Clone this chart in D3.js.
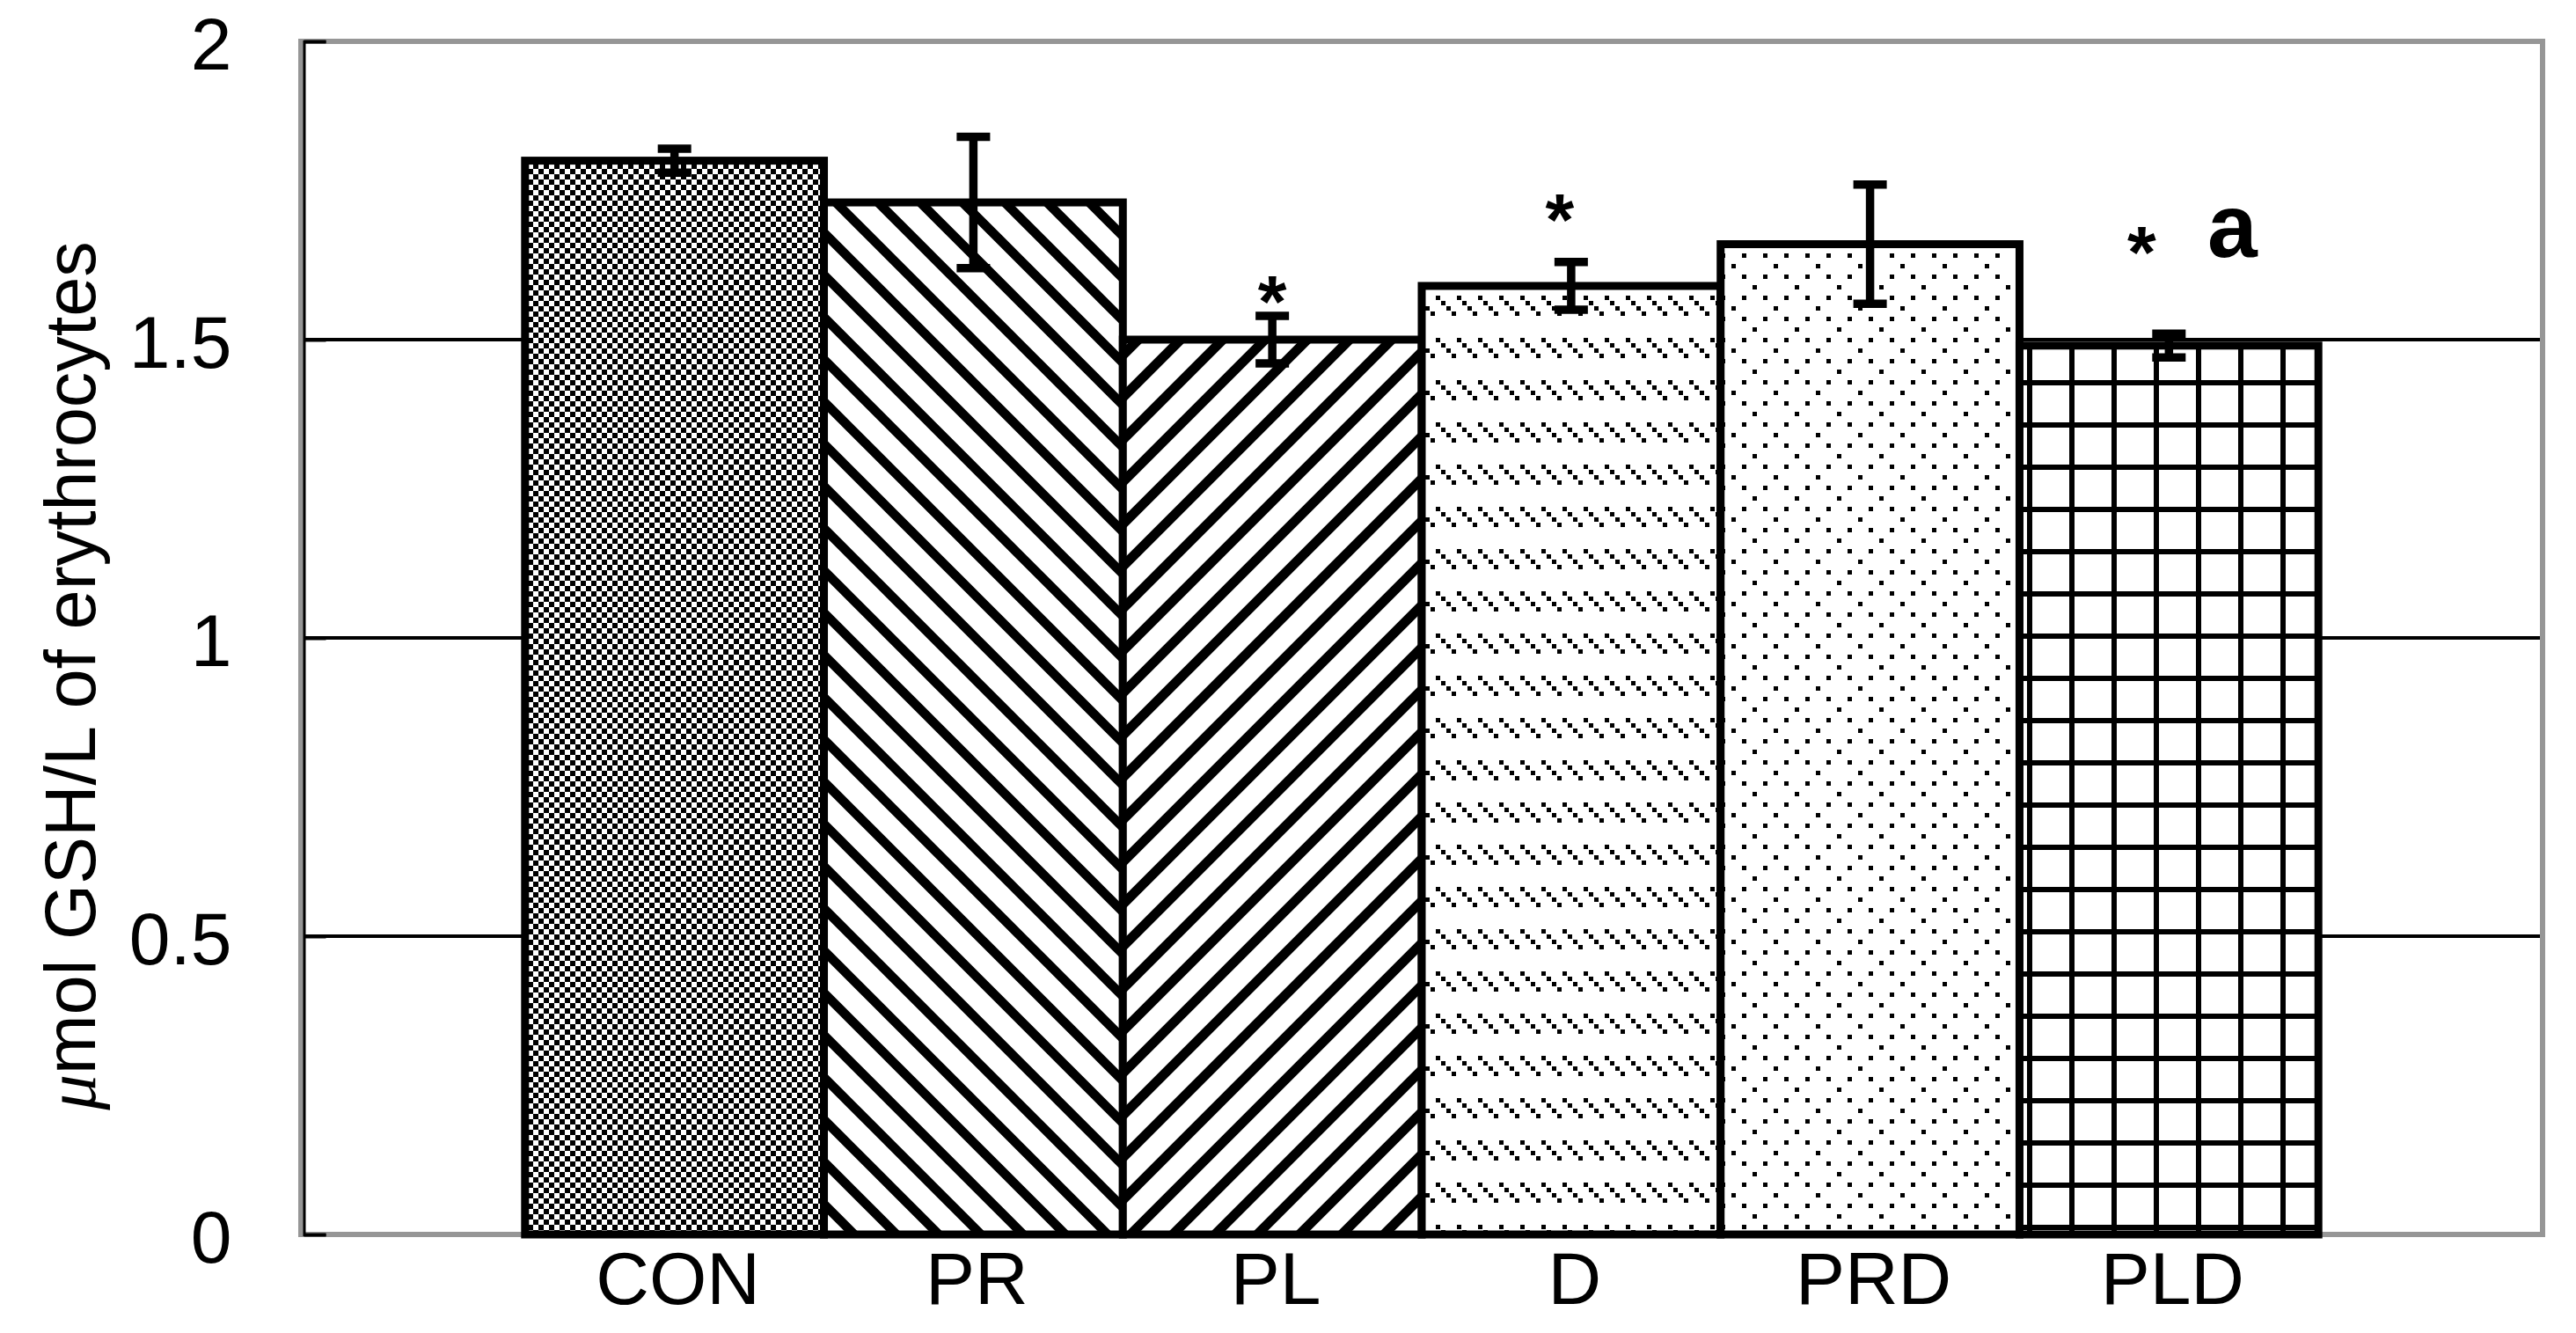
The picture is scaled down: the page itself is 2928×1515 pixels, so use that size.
<!DOCTYPE html>
<html>
<head>
<meta charset="utf-8">
<script src="https://cdn.jsdelivr.net/npm/d3@7"></script>
<style>
  body { margin: 0; background: #fff; }
  text { font-family: Arial, "Liberation Sans", sans-serif; fill: #000; }
</style>
</head>
<body>
<script>
// data
const categories = ['CON', 'PR', 'PL', 'D', 'PRD', 'PLD']
const means = [1.80, 1.73, 1.50, 1.59, 1.66, 1.49]
const errors = [0.02, 0.11, 0.04, 0.04, 0.10, 0.02]
const yTicks = [0, 0.5, 1, 1.5, 2]
const gridValues = [0.5, 1, 1.5]

// significance marks above bars
const markTexts = ['*', '*', '*', 'a']
const markCats = ['PL', 'D', 'PLD', 'PLD']
const markLevels = [1.52, 1.658, 1.603, 1.639]

const w = 2928
const h = 1515
const plot = { left: 342, right: 2890, top: 47, bottom: 1403 }

const svg = d3.select('body')
    .append('svg')
    .attr('width', w)
    .attr('height', h)

svg.append('rect').attr('width', w).attr('height', h).attr('fill', '#fff')

// fill patterns, one per group
const defs = svg.append('defs')
const u = 6

const checker = defs.append('pattern').attr('id', 'p0')
    .attr('patternUnits', 'userSpaceOnUse').attr('width', 2 * u).attr('height', 2 * u)
checker.append('rect').attr('width', 2 * u).attr('height', 2 * u).attr('fill', '#fff')
checker.append('rect').attr('x', 0).attr('y', 0).attr('width', u).attr('height', u).attr('fill', '#000')
checker.append('rect').attr('x', u).attr('y', u).attr('width', u).attr('height', u).attr('fill', '#000')

const down = defs.append('pattern').attr('id', 'p1')
    .attr('patternUnits', 'userSpaceOnUse').attr('width', 48).attr('height', 48)
down.append('rect').attr('width', 48).attr('height', 48).attr('fill', '#fff')
down.append('path').attr('d', 'M-10,-10L58,58M38,-10L58,10M-10,38L10,58')
    .attr('stroke', '#000').attr('stroke-width', 10.5)

const up = defs.append('pattern').attr('id', 'p2')
    .attr('patternUnits', 'userSpaceOnUse').attr('width', 48).attr('height', 48)
up.append('rect').attr('width', 48).attr('height', 48).attr('fill', '#fff')
up.append('path').attr('d', 'M-10,58L58,-10M-10,10L10,-10M38,58L58,38')
    .attr('stroke', '#000').attr('stroke-width', 11)

const dash = defs.append('pattern').attr('id', 'p3')
    .attr('patternUnits', 'userSpaceOnUse').attr('width', 4 * u).attr('height', 8 * u)
dash.append('rect').attr('width', 4 * u).attr('height', 8 * u).attr('fill', '#fff')
d3.range(4).forEach(i => {
    dash.append('rect').attr('x', i * u).attr('y', i * u)
        .attr('width', 5).attr('height', 5).attr('fill', '#000')
})

const dots = defs.append('pattern').attr('id', 'p4')
    .attr('patternUnits', 'userSpaceOnUse').attr('width', 8 * u).attr('height', 8 * u)
dots.append('rect').attr('width', 8 * u).attr('height', 8 * u).attr('fill', '#fff')
const dotCells = [[2, 0], [6, 0], [0, 2], [2, 4], [6, 4], [4, 6]]
dotCells.forEach(c => {
    dots.append('rect').attr('x', c[0] * u).attr('y', c[1] * u)
        .attr('width', 5).attr('height', 5).attr('fill', '#000')
})

const grid = defs.append('pattern').attr('id', 'p5')
    .attr('patternUnits', 'userSpaceOnUse').attr('width', 48).attr('height', 48)
grid.append('rect').attr('width', 48).attr('height', 48).attr('fill', '#fff')
grid.append('rect').attr('x', 0).attr('y', 0).attr('width', 6).attr('height', 48).attr('fill', '#000')
grid.append('rect').attr('x', 0).attr('y', 0).attr('width', 48).attr('height', 6).attr('fill', '#000')

// scales
const x = d3.scaleBand()
    .domain(categories)
    .range([plot.left, plot.right])
    .paddingInner(0)
    .paddingOuter(0.75)

const y = d3.scaleLinear()
    .domain([0, 2])
    .range([plot.bottom, plot.top])

// gridlines
svg.selectAll('.grid')
    .data(gridValues)
    .enter()
    .append('line')
    .attr('x1', plot.left)
    .attr('x2', plot.right)
    .attr('y1', d => y(d))
    .attr('y2', d => y(d))
    .attr('stroke', '#000')
    .attr('stroke-width', 4)

// plot frame
svg.append('rect')
    .attr('x', plot.left)
    .attr('y', plot.top)
    .attr('width', plot.right - plot.left)
    .attr('height', plot.bottom - plot.top)
    .attr('fill', 'none')
    .attr('stroke', '#969696')
    .attr('stroke-width', 6)

// bars
svg.selectAll('.bar')
    .data(categories)
    .enter()
    .append('rect')
    .attr('x', d => x(d))
    .attr('y', (d, i) => y(means[i]))
    .attr('width', x.bandwidth())
    .attr('height', (d, i) => y(0) - y(means[i]))
    .attr('fill', (d, i) => 'url(#p' + i + ')')
    .attr('stroke', '#000')
    .attr('stroke-width', 9)

// error bars
const cap = 38
const eb = svg.selectAll('.err')
    .data(categories)
    .enter()
    .append('g')
    .attr('stroke', '#000')
    .attr('stroke-width', 9.5)
eb.append('line')
    .attr('x1', d => x(d) + x.bandwidth() / 2)
    .attr('x2', d => x(d) + x.bandwidth() / 2)
    .attr('y1', (d, i) => y(means[i] + errors[i]))
    .attr('y2', (d, i) => y(means[i] - errors[i]))
eb.append('line')
    .attr('x1', d => x(d) + x.bandwidth() / 2 - cap / 2)
    .attr('x2', d => x(d) + x.bandwidth() / 2 + cap / 2)
    .attr('y1', (d, i) => y(means[i] + errors[i]))
    .attr('y2', (d, i) => y(means[i] + errors[i]))
eb.append('line')
    .attr('x1', d => x(d) + x.bandwidth() / 2 - cap / 2)
    .attr('x2', d => x(d) + x.bandwidth() / 2 + cap / 2)
    .attr('y1', (d, i) => y(means[i] - errors[i]))
    .attr('y2', (d, i) => y(means[i] - errors[i]))

// y axis
const yAxis = svg.append('g')
    .attr('transform', 'translate(' + (plot.left + 3.5) + ',0)')
    .call(d3.axisLeft(y).tickValues(yTicks).tickSize(-25).tickPadding(82).tickFormat(d => String(d)))
yAxis.select('.domain').attr('stroke', '#000').attr('stroke-width', 3)
yAxis.selectAll('.tick line').attr('stroke', '#000').attr('stroke-width', 4)
yAxis.selectAll('.tick text')
    .attr('font-size', 84)
    .attr('dy', '0.38em')
    .attr('font-family', 'Arial, "Liberation Sans", sans-serif')
    .attr('fill', '#000')

// category labels
svg.selectAll('.xlab')
    .data(categories)
    .enter()
    .append('text')
    .attr('x', d => x(d) + x.bandwidth() / 2 + 4)
    .attr('y', 1482)
    .attr('text-anchor', 'middle')
    .attr('font-size', 84)
    .text(d => d)

// significance marks
const markShift = [0, -13, -31, 72]
svg.selectAll('.mark')
    .data(markTexts)
    .enter()
    .append('text')
    .attr('x', (d, i) => x(markCats[i]) + x.bandwidth() / 2 + markShift[i])
    .attr('y', (d, i) => y(markLevels[i]))
    .attr('text-anchor', 'middle')
    .attr('font-size', (d, i) => d === 'a' ? 102 : 84)
    .attr('font-weight', 'bold')
    .text(d => d)

// y axis title
const title = svg.append('text')
    .attr('transform', 'translate(108,768) rotate(-90)')
    .attr('text-anchor', 'middle')
    .attr('font-size', 81)
title.append('tspan')
    .attr('font-family', '"Liberation Serif", "DejaVu Serif", serif')
    .attr('font-style', 'italic')
    .text('\u03bc')
title.append('tspan').text('mol GSH/L of erythrocytes')
</script>
</body>
</html>
